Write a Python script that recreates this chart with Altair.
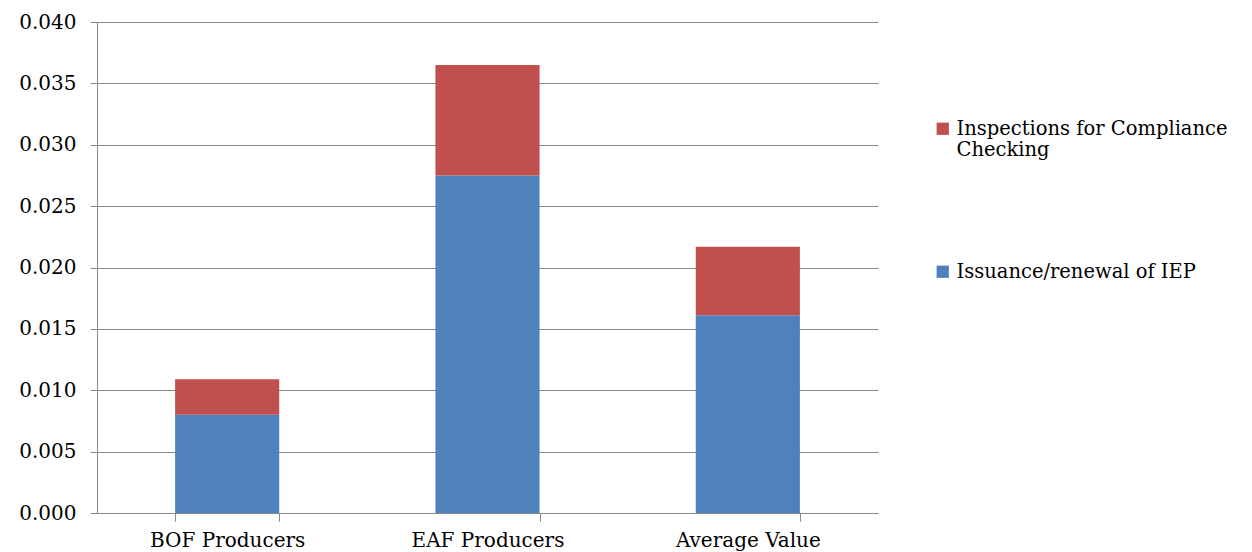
import altair as alt
import pandas as pd

categories = ["BOF Producers", "EAF Producers", "Average Value"]
issuance = [0.0080, 0.0275, 0.0161]
inspections = [0.0029, 0.0090, 0.0056]
series_names = ["Inspections for Compliance Checking", "Issuance/renewal of IEP"]
series_colors = ["#C0504D", "#4F81BD"]

rows = []
for c, a, b in zip(categories, issuance, inspections):
    rows.append({"cat": c, "series": series_names[1], "value": a, "ord": 0})
    rows.append({"cat": c, "series": series_names[0], "value": b, "ord": 1})
df = pd.DataFrame(rows)

FONT = "DejaVu Serif"

chart = alt.Chart(df).mark_bar().encode(
    x=alt.X("cat:N", sort=categories, title=None,
            scale=alt.Scale(paddingInner=0.6, paddingOuter=0.3),
            axis=alt.Axis(labelAngle=0, tickBand="extent", grid=False,
                          domainColor="#888888", tickColor="#888888", tickSize=8,
                          labelFont=FONT, labelFontSize=20, labelColor="#000000",
                          labelPadding=9)),
    y=alt.Y("value:Q", stack="zero", title=None,
            scale=alt.Scale(domain=[0, 0.04], nice=False),
            axis=alt.Axis(values=[i * 0.005 for i in range(9)], format=".3f",
                          grid=True, gridColor="#888888", domainColor="#888888",
                          tickColor="#888888", tickSize=7, labelPadding=14,
                          labelFont=FONT, labelFontSize=20, labelColor="#000000")),
    color=alt.Color("series:N", scale=alt.Scale(domain=series_names, range=series_colors),
                    legend=alt.Legend(title=None, orient="none", legendX=836, legendY=97,
                                      symbolType="square", symbolSize=150,
                                      symbolStrokeWidth=0, rowPadding=101,
                                      labelFont=FONT, labelFontSize=19.5, labelColor="#000000",
                                      labelLimit=400, labelOffset=4,
                                      labelExpr="datum.label == 'Inspections for Compliance Checking' ? ['Inspections for Compliance', 'Checking'] : datum.label")),
    order=alt.Order("ord:Q"),
).properties(
    width=781, height=491,
    autosize=alt.AutoSizeParams(type="none"),
    padding={"left": 89, "top": 14, "right": 362, "bottom": 38},
    background="#ffffff",
).configure_view(stroke=None)

chart.save("out.html", embed_options={"renderer": "svg", "actions": False})
